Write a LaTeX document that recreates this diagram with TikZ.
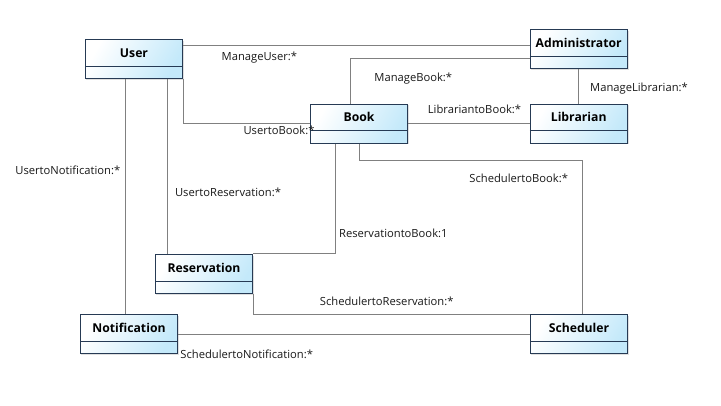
\documentclass[tikz,border=0pt]{standalone}
\usepackage{fontspec}
\setmainfont{Open Sans}
\usetikzlibrary{shadows}
\definecolor{clsedge}{RGB}{38,58,84}
\definecolor{clsfill}{RGB}{196,233,250}
\definecolor{assoc}{RGB}{128,128,128}

\tikzset{
  cls/.style={draw=clsedge, line width=0.9pt, left color=white, right color=clsfill, shading angle=60,
    minimum width=97.5pt, inner xsep=0pt, inner ysep=0pt, text height=17.7pt, text depth=21.3pt,
    font=\fontsize{12.2}{14}\selectfont\bfseries,
    drop shadow={shadow xshift=1.2pt, shadow yshift=-1.2pt, opacity=0.25},
    path picture={\draw[clsedge, line width=0.9pt] ([yshift=12.3pt]path picture bounding box.south west) -- ([yshift=12.3pt]path picture bounding box.south east);}},
  link/.style={draw=assoc, line width=0.8pt},
  role/.style={font=\fontsize{11.2}{13}\selectfont, inner sep=0pt, text height=11pt, text depth=1.4pt, text=black!90}
}

\begin{document}
\begin{tikzpicture}[x=1pt, y=-1pt]
  \useasboundingbox[fill=white] (0,0) rectangle (721,405);
  % classes
  \node[cls] (user) at (134,58.8) {User};
  \node[cls] (admin) at (578.7,49.3) {Administrator};
  \node[cls] (book) at (359,123.7) {Book};
  \node[cls] (librarian) at (578.7,123.7) {Librarian};
  \node[cls] (resv) at (204,273.8) {Reservation};
  \node[cls] (notif) at (129,334) {Notification};
  \node[cls] (sched) at (579,334) {Scheduler};
  % associations
  \draw[link] ([yshift=-6.7pt]user.north east) -- ([yshift=-6.7pt]user.north east -| admin.west);
  \draw[link] ([xshift=-9pt]book.north) |- ([yshift=-29pt]admin.north west);
  \draw[link] (admin.south) -- (librarian.north);
  \draw[link] (book.east) -- (librarian.west);
  \draw[link] (user.south east) |- (book.west);
  \draw[link] ([xshift=-8.7pt]user.south) -- ([xshift=-8.7pt]user.south |- notif.north);
  \draw[link] ([xshift=33.3pt]user.south) -- ([xshift=33.3pt]user.south |- resv.north);
  \draw[link] ([xshift=-23.3pt]book.south) |- (resv.north east);
  \draw[link] (book.south) -- ++(0,16.7) -| ([xshift=3.5pt]sched.north);
  \draw[link] (resv.south east) |- (sched.north west);
  \draw[link] (notif.east) -- (sched.west);
  % role names
  \node[role] (lManageUser) at (259.4,56) {ManageUser:*};
  \node[role] (lManageBook) at (413.3,76.7) {ManageBook:*};
  \node[role] (lManageLibrarian) at (639,86.7) {ManageLibrarian:*};
  \node[role] (lLibrariantoBook) at (474.5,108.3) {LibrariantoBook:*};
  \node[role] (lUsertoBook) at (279,129.3) {UsertoBook:*};
  \node[role] (lUsertoNotification) at (67.8,170) {UsertoNotification:*};
  \node[role] (lUsertoReservation) at (228,191.7) {UsertoReservation:*};
  \node[role] (lSchedulertoBook) at (518.7,177.3) {SchedulertoBook:*};
  \node[role] (lReservationtoBook) at (393.3,232.3) {ReservationtoBook:1};
  \node[role] (lSchedulertoReservation) at (386.7,300.5) {SchedulertoReservation:*};
  \node[role] (lSchedulertoNotification) at (246.7,353.3) {SchedulertoNotification:*};
\end{tikzpicture}
\end{document}
